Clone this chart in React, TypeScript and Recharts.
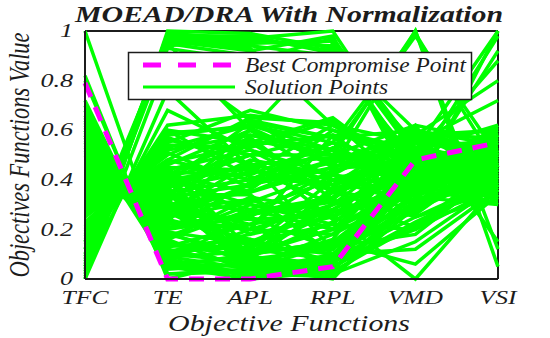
import React from 'react';
import { LineChart, Line, XAxis, YAxis, ReferenceLine } from 'recharts';

const objectives = ['TFC', 'TE', 'APL', 'RPL', 'VMD', 'VSI'];
const yTicks = [0, 0.2, 0.4, 0.6, 0.8, 1];
const yTickLabels = ['0', '0.2', '0.4', '0.6', '0.8', '1'];

// order of values: TFC, TE, APL, RPL, VMD, VSI
const bestCompromise = [0.79, 0.0, 0.0, 0.05, 0.48, 0.55];

// bundle that runs along the top from TE to RPL
const topSolutions = [
  [0.02, 1.0, 0.99, 0.93, 0.45, 0.42],
  [0.05, 0.99, 0.97, 1.0, 0.5, 0.38],
  [0.0, 0.98, 0.95, 0.96, 0.4, 0.48],
  [0.1, 0.97, 0.94, 0.9, 0.55, 0.35],
  [0.08, 0.96, 0.92, 0.98, 0.35, 0.52],
  [0.15, 0.95, 0.9, 0.88, 0.48, 0.45],
  [0.03, 0.99, 0.96, 0.94, 0.42, 0.3],
  [0.12, 0.94, 0.97, 0.92, 0.6, 0.4],
  [0.07, 0.97, 0.93, 0.62, 0.45, 0.55],
  [0.04, 0.95, 0.6, 0.95, 0.5, 0.4],
  [0.06, 0.93, 0.88, 0.97, 0.53, 0.47],
  [0.09, 0.98, 0.98, 0.91, 0.44, 0.36],
];

const lowTfcSolutions = [
  [0.0, 0.76, 0.45, 0.3, 0.42, 0.5],
  [0.05, 0.68, 0.52, 0.42, 0.3, 0.44],
  [0.01, 0.88, 0.64, 0.57, 0.38, 0.62],
];

const upperSolutions = [
  [0.18, 0.58, 0.62, 0.55, 0.45, 0.4],
  [0.2, 0.55, 0.68, 0.6, 0.52, 0.48],
  [0.22, 0.52, 0.58, 0.5, 0.62, 0.55],
  [0.15, 0.6, 0.55, 0.65, 0.4, 0.33],
  [0.25, 0.5, 0.64, 0.45, 0.58, 0.6],
  [0.19, 0.56, 0.5, 0.58, 0.35, 0.45],
  [0.28, 0.46, 0.6, 0.4, 0.5, 0.38],
  [0.12, 0.62, 0.66, 0.62, 0.55, 0.5],
  [0.16, 0.57, 0.46, 0.49, 0.51, 0.42],
  [0.23, 0.51, 0.37, 0.53, 0.39, 0.56],
  [0.26, 0.48, 0.65, 0.63, 0.47, 0.37],
  [0.14, 0.6, 0.41, 0.38, 0.59, 0.49],
  [0.21, 0.54, 0.53, 0.64, 0.33, 0.58],
  [0.17, 0.59, 0.61, 0.46, 0.43, 0.32],
];

const middleSolutions = [
  [0.3, 0.42, 0.35, 0.48, 0.42, 0.52],
  [0.32, 0.4, 0.45, 0.3, 0.55, 0.42],
  [0.35, 0.38, 0.28, 0.4, 0.3, 0.58],
  [0.33, 0.44, 0.52, 0.35, 0.48, 0.35],
  [0.38, 0.35, 0.4, 0.52, 0.38, 0.46],
  [0.36, 0.3, 0.22, 0.28, 0.45, 0.55],
  [0.4, 0.32, 0.48, 0.42, 0.6, 0.5],
  [0.42, 0.28, 0.32, 0.2, 0.36, 0.44],
  [0.34, 0.36, 0.18, 0.35, 0.25, 0.4],
  [0.45, 0.25, 0.38, 0.45, 0.52, 0.62],
  [0.39, 0.34, 0.56, 0.5, 0.44, 0.37],
  [0.44, 0.22, 0.26, 0.32, 0.58, 0.48],
  [0.31, 0.43, 0.42, 0.55, 0.33, 0.3],
  [0.37, 0.4, 0.3, 0.25, 0.4, 0.57],
  [0.41, 0.27, 0.15, 0.22, 0.2, 0.42],
  [0.46, 0.24, 0.44, 0.38, 0.5, 0.32],
  [0.35, 0.33, 0.6, 0.47, 0.56, 0.53],
  [0.43, 0.29, 0.36, 0.6, 0.46, 0.44],
  [0.29, 0.45, 0.12, 0.08, 0.35, 0.47],
  [0.33, 0.41, 0.05, 0.18, 0.52, 0.41],
  [0.37, 0.36, 0.08, 0.3, 0.41, 0.59],
  [0.4, 0.31, 0.55, 0.36, 0.28, 0.43],
  [0.44, 0.26, 0.47, 0.12, 0.47, 0.51],
  [0.47, 0.21, 0.22, 0.42, 0.37, 0.33],
  [0.32, 0.39, 0.63, 0.57, 0.6, 0.46],
  [0.36, 0.35, 0.02, 0.05, 0.23, 0.39],
  [0.41, 0.3, 0.2, 0.58, 0.53, 0.56],
  [0.43, 0.27, 0.11, 0.27, 0.34, 0.49],
  [0.38, 0.34, 0.34, 0.1, 0.43, 0.36],
  [0.34, 0.38, 0.5, 0.24, 0.57, 0.6],
  [0.46, 0.23, 0.58, 0.52, 0.31, 0.45],
  [0.3, 0.44, 0.25, 0.44, 0.49, 0.34],
  [0.39, 0.32, 0.04, 0.14, 0.27, 0.52],
  [0.45, 0.24, 0.16, 0.06, 0.39, 0.43],
  [0.35, 0.37, 0.43, 0.62, 0.44, 0.61],
  [0.42, 0.29, 0.09, 0.37, 0.56, 0.38],
  [0.31, 0.42, 0.57, 0.32, 0.21, 0.47],
  [0.48, 0.2, 0.39, 0.47, 0.6, 0.54],
  [0.4, 0.3, 0.07, 0.04, 0.3, 0.45],
  [0.33, 0.4, 0.03, 0.09, 0.4, 0.5],
];

const lowerSolutions = [
  [0.5, 0.18, 0.1, 0.15, 0.3, 0.4],
  [0.55, 0.12, 0.05, 0.08, 0.38, 0.5],
  [0.48, 0.2, 0.25, 0.12, 0.42, 0.36],
  [0.6, 0.1, 0.15, 0.28, 0.48, 0.45],
  [0.52, 0.15, 0.08, 0.05, 0.22, 0.34],
  [0.58, 0.08, 0.2, 0.18, 0.35, 0.58],
  [0.65, 0.06, 0.02, 0.1, 0.28, 0.46],
  [0.47, 0.17, 0.3, 0.22, 0.52, 0.4],
  [0.54, 0.14, 0.12, 0.35, 0.44, 0.6],
  [0.62, 0.09, 0.04, 0.02, 0.15, 0.38],
  [0.56, 0.11, 0.18, 0.25, 0.56, 0.52],
  [0.72, 0.04, 0.06, 0.15, 0.4, 0.3],
  [0.6, 0.07, 0.01, 0.04, 0.32, 0.42],
  [0.68, 0.05, 0.03, 0.08, 0.25, 0.36],
  [0.57, 0.1, 0.07, 0.13, 0.18, 0.44],
  [0.51, 0.16, 0.03, 0.1, 0.33, 0.48],
  [0.53, 0.13, 0.22, 0.03, 0.45, 0.41],
  [0.59, 0.09, 0.11, 0.2, 0.51, 0.35],
  [0.63, 0.07, 0.26, 0.31, 0.26, 0.5],
  [0.49, 0.19, 0.06, 0.16, 0.58, 0.57],
  [0.55, 0.13, 0.16, 0.07, 0.2, 0.37],
  [0.66, 0.06, 0.09, 0.23, 0.42, 0.53],
  [0.52, 0.16, 0.33, 0.27, 0.36, 0.31],
  [0.61, 0.08, 0.02, 0.01, 0.29, 0.44],
  [0.57, 0.11, 0.13, 0.4, 0.47, 0.58],
  [0.64, 0.05, 0.0, 0.03, 0.22, 0.41],
  [0.58, 0.06, 0.05, 0.0, 0.35, 0.47],
  [0.7, 0.02, 0.04, 0.09, 0.31, 0.39],
  [0.53, 0.14, 0.09, 0.06, 0.41, 0.55],
];

const highTfcSolutions = [
  [0.8, 0.02, 0.03, 0.06, 0.45, 0.55],
  [0.82, 0.0, 0.08, 0.12, 0.5, 0.48],
  [1.0, 0.05, 0.1, 0.2, 0.38, 0.35],
];

// lines touching VMD = 1
const vmdPeakSolutions = [
  [0.3, 0.41, 0.5, 0.5, 1.0, 0.05],
  [0.26, 0.48, 0.4, 0.55, 0.99, 0.45],
  [0.4, 0.3, 0.35, 0.45, 1.0, 0.12],
  [0.21, 0.53, 0.62, 0.52, 0.98, 0.5],
];

// lines touching VSI = 1
const vsiPeakSolutions = [
  [0.33, 0.38, 0.46, 0.4, 0.35, 1.0],
  [0.45, 0.23, 0.2, 0.3, 0.45, 0.98],
  [0.27, 0.47, 0.54, 0.58, 0.52, 1.0],
  [0.5, 0.16, 0.28, 0.2, 0.4, 0.92],
  [0.38, 0.33, 0.38, 0.48, 0.58, 0.8],
  [0.28, 0.45, 0.44, 0.36, 0.5, 0.88],
  [0.44, 0.25, 0.31, 0.43, 0.55, 0.72],
];

// lines dropping to VMD = 0
const vmdDipSolutions = [
  [0.42, 0.26, 0.24, 0.26, 0.0, 0.38],
  [0.36, 0.37, 0.1, 0.15, 0.06, 0.34],
  [0.48, 0.19, 0.14, 0.1, 0.12, 0.36],
  [0.39, 0.33, 0.27, 0.33, 0.62, 0.15],
];

const allSolutions = [
  ...topSolutions,
  ...lowTfcSolutions,
  ...upperSolutions,
  ...middleSolutions,
  ...lowerSolutions,
  ...highTfcSolutions,
  ...vmdPeakSolutions,
  ...vsiPeakSolutions,
  ...vmdDipSolutions,
];

const chartData = objectives.map((name, i) => {
  const row: Record<string, string | number> = { name, best: bestCompromise[i] };
  allSolutions.forEach((s, j) => {
    row['s' + j] = s[i];
  });
  return row;
});

const serifText = { fontFamily: 'Liberation Serif', fontStyle: 'italic' };
const INK = '#1c1c1c';

const YTick = ({ y, payload }: any) => {
  const idx = yTicks.indexOf(payload.value);
  return (
    <text
      transform={`translate(73,${y}) scale(1.45,1)`}
      textAnchor="end"
      dy="0.34em"
      style={serifText}
      fontSize={18}
      fill={INK}
    >
      {idx >= 0 ? yTickLabels[idx] : payload.value}
    </text>
  );
};

const XTick = ({ x, payload }: any) => (
  <text
    transform={`translate(${x},304) scale(1.42,1)`}
    textAnchor="middle"
    style={serifText}
    fontSize={18}
    fill={INK}
  >
    {payload.value}
  </text>
);

export default function App() {
  return (
    <div style={{ position: 'absolute', left: 0, top: 0, width: 550, height: 338, background: '#fff' }}>
      <LineChart
        width={550}
        height={338}
        data={chartData}
        margin={{ top: 31, right: 52, bottom: 0, left: 0 }}
      >
        <XAxis
          dataKey="name"
          scale="point"
          padding={{ left: 0, right: 0 }}
          height={59}
          axisLine={{ stroke: INK, strokeWidth: 2 }}
          tickLine={false}
          tick={<XTick />}
          interval={0}
        />
        <YAxis
          domain={[0, 1]}
          ticks={yTicks}
          width={85}
          axisLine={{ stroke: INK, strokeWidth: 2 }}
          tickLine={false}
          tick={<YTick />}
        />
        <ReferenceLine y={1} stroke={INK} strokeWidth={2} />
        <ReferenceLine x="VSI" stroke={INK} strokeWidth={2} />
        {allSolutions.map((_, j) => (
          <Line
            key={j}
            type="linear"
            dataKey={'s' + j}
            stroke="#00ff00"
            strokeWidth={3.5}
            dot={false}
            activeDot={false}
            isAnimationActive={false}
          />
        ))}
        <Line
          type="linear"
          dataKey="best"
          stroke="#ff00ff"
          strokeWidth={5}
          strokeDasharray="15 11"
          dot={false}
          activeDot={false}
          isAnimationActive={false}
        />
      </LineChart>
      <svg
        width={550}
        height={338}
        style={{ position: 'absolute', left: 0, top: 0, pointerEvents: 'none' }}
      >
        <text
          x={75}
          y={22}
          textLength={428}
          lengthAdjust="spacingAndGlyphs"
          style={{ ...serifText, fontWeight: 'bold' }}
          fontSize={24}
          fill={INK}
        >
          MOEAD/DRA With Normalization
        </text>
        <text
          transform="translate(29,155) rotate(-90) scale(1,1.45)"
          textAnchor="middle"
          textLength={245}
          lengthAdjust="spacingAndGlyphs"
          style={serifText}
          fontSize={21}
          fill={INK}
        >
          Objectives Functions Value
        </text>
        <text
          x={168}
          y={331}
          textLength={242}
          lengthAdjust="spacingAndGlyphs"
          style={serifText}
          fontSize={23}
          fill={INK}
        >
          Objective Functions
        </text>
        <rect x={128.5} y={52.5} width={343} height={47} fill="#fff" stroke={INK} strokeWidth={1.5} />
        <line x1={143} y1={65} x2={235} y2={65} stroke="#ff00ff" strokeWidth={5} strokeDasharray="18 17" />
        <line x1={143} y1={87} x2={235} y2={87} stroke="#00ff00" strokeWidth={3} />
        <text
          x={245}
          y={72}
          textLength={221}
          lengthAdjust="spacingAndGlyphs"
          style={serifText}
          fontSize={20}
          fill={INK}
        >
          Best Compromise Point
        </text>
        <text
          x={245}
          y={94}
          textLength={143}
          lengthAdjust="spacingAndGlyphs"
          style={serifText}
          fontSize={20}
          fill={INK}
        >
          Solution Points
        </text>
      </svg>
    </div>
  );
}
